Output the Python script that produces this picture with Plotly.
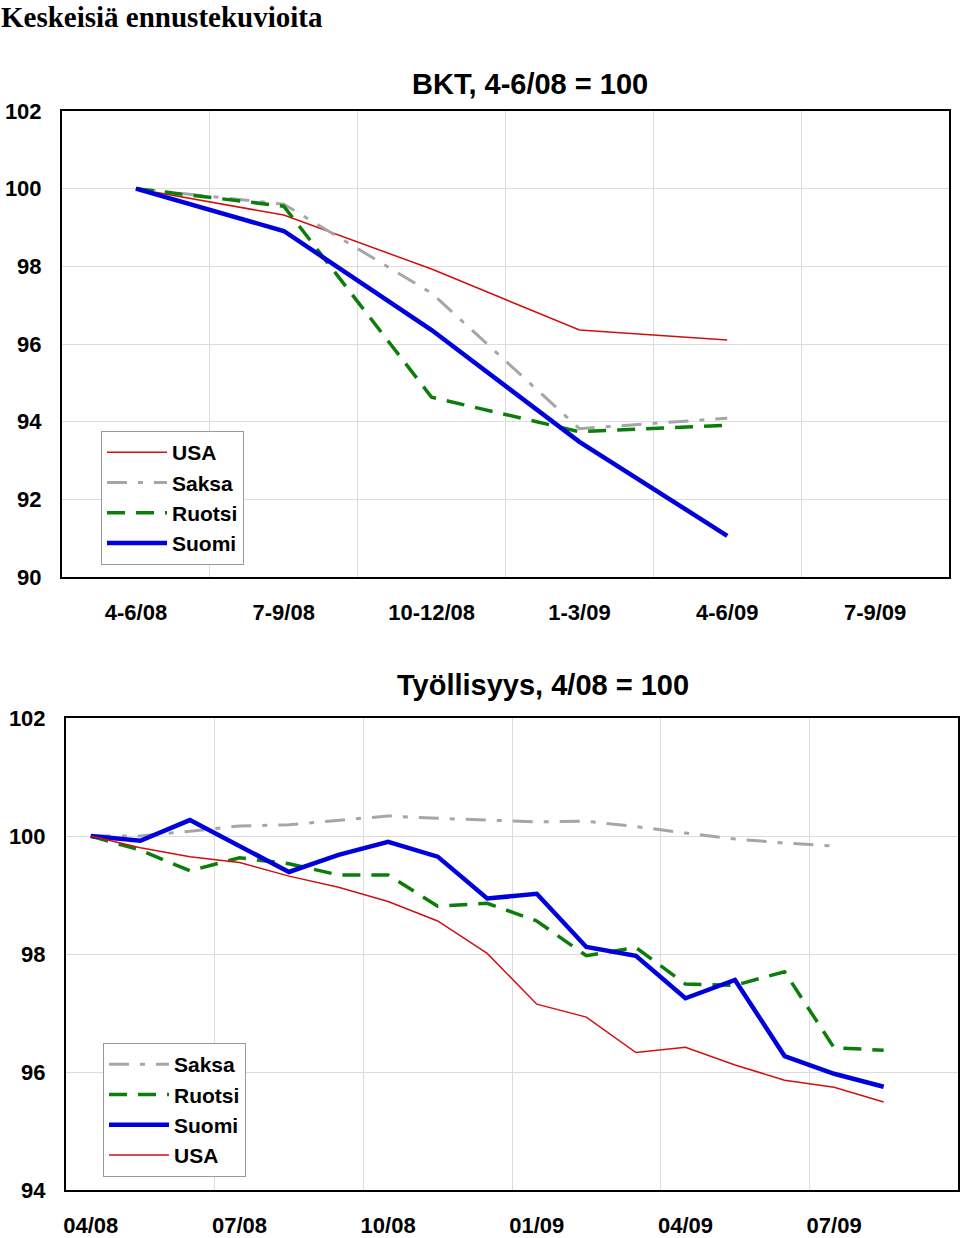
import plotly.graph_objects as go

PAGE_TITLE = "Keskeisiä ennustekuvioita"

# --- Top chart: GDP (BKT), quarterly, 4-6/08 = 100
GDP_TITLE = "BKT, 4-6/08 = 100"
GDP_QUARTERS = ["4-6/08", "7-9/08", "10-12/08", "1-3/09", "4-6/09", "7-9/09"]
GDP_USA = [100.0, 99.32, 97.93, 96.36, 96.10]
GDP_SAKSA = [100.0, 99.60, 97.31, 93.82, 94.09]
GDP_RUOTSI = [100.0, 99.55, 94.63, 93.74, 93.91]
GDP_SUOMI = [100.0, 98.91, 96.36, 93.48, 91.06]

# --- Bottom chart: employment (Työllisyys), monthly, 4/08 = 100
EMP_TITLE = "Työllisyys, 4/08 = 100"
EMP_MONTHS = ["04/08", "05/08", "06/08", "07/08", "08/08", "09/08", "10/08",
              "11/08", "12/08", "01/09", "02/09", "03/09", "04/09", "05/09",
              "06/09", "07/09", "08/09", "09/09"]
EMP_SAKSA = [100.0, 100.0, 100.08, 100.17, 100.19, 100.26, 100.34, 100.30,
             100.27, 100.24, 100.25, 100.16, 100.05, 99.95, 99.88, 99.83]
EMP_RUOTSI = [100.0, 99.76, 99.41, 99.63, 99.53, 99.34, 99.34, 98.81, 98.86,
              98.56, 97.97, 98.11, 97.49, 97.47, 97.70, 96.41, 96.37]
EMP_SUOMI = [100.0, 99.92, 100.27, 99.83, 99.39, 99.68, 99.90, 99.65, 98.94,
             99.02, 98.12, 97.97, 97.25, 97.56, 96.27, 95.97, 95.75]
EMP_USA = [100.0, 99.80, 99.65, 99.55, 99.32, 99.13, 98.89, 98.56, 98.01,
           97.15, 96.93, 96.33, 96.42, 96.12, 95.86, 95.74, 95.49]

W, H = 960, 1238
FONT = "Liberation Sans, Arial, sans-serif"
RED, GRAY, GREEN, BLUE = "#d01010", "#a6a6a6", "#0b7d0b", "#0000dd"
GRID = "#dcdcdc"

STYLE = {
    "USA": dict(color=RED, width=1.5, dash="solid"),
    "Saksa": dict(color=GRAY, width=3, dash="20px,11px,5px,11px"),
    "Ruotsi": dict(color=GREEN, width=3.5, dash="18px,11px"),
    "Suomi": dict(color=BLUE, width=4.5, dash="solid"),
}

fig = go.Figure()

def add(name, cats, vals, xa, ya, leg):
    fig.add_trace(go.Scatter(
        x=cats[:len(vals)], y=vals, name=name, mode="lines",
        line=STYLE[name], xaxis=xa, yaxis=ya, legend=leg,
    ))

add("USA", GDP_QUARTERS, GDP_USA, "x", "y", "legend")
add("Saksa", GDP_QUARTERS, GDP_SAKSA, "x", "y", "legend")
add("Ruotsi", GDP_QUARTERS, GDP_RUOTSI, "x", "y", "legend")
add("Suomi", GDP_QUARTERS, GDP_SUOMI, "x", "y", "legend")

add("Saksa", EMP_MONTHS, EMP_SAKSA, "x2", "y2", "legend2")
add("Ruotsi", EMP_MONTHS, EMP_RUOTSI, "x2", "y2", "legend2")
add("Suomi", EMP_MONTHS, EMP_SUOMI, "x2", "y2", "legend2")
add("USA", EMP_MONTHS, EMP_USA, "x2", "y2", "legend2")

tickfont = dict(family=FONT, size=22, color="black", weight="bold")
axis_common = dict(showline=True, linecolor="black", linewidth=2, mirror=True,
                   gridcolor=GRID, gridwidth=1, tickfont=tickfont, ticks="",
                   zeroline=False, fixedrange=True, automargin=False)

def py(y_px):
    return 1 - y_px / H

legend_font = dict(family=FONT, size=21, color="black", weight="bold")

fig.update_layout(
    width=W, height=H,
    margin=dict(l=0, r=0, t=0, b=0),
    paper_bgcolor="white", plot_bgcolor="white",
    font=dict(family=FONT, color="black"),
    xaxis=dict(domain=[62 / W, 949 / W], anchor="y", type="category",
               categoryorder="array", categoryarray=GDP_QUARTERS,
               range=[-0.5, len(GDP_QUARTERS) - 0.5], tickson="boundaries",
               tickangle=0, showgrid=True, ticklabelstandoff=15, **axis_common),
    yaxis=dict(domain=[py(577), py(111)], anchor="x", range=[90, 102],
               dtick=2, showgrid=True, ticklabelstandoff=14, **axis_common),
    xaxis2=dict(domain=[66 / W, 958 / W], anchor="y2", type="category",
                categoryorder="array", categoryarray=EMP_MONTHS,
                range=[-0.5, len(EMP_MONTHS) - 0.5], tickson="boundaries",
                dtick=3, tickangle=0, showgrid=True, ticklabelstandoff=15,
                **axis_common),
    yaxis2=dict(domain=[py(1190), py(718)], anchor="x2", range=[94, 102],
                dtick=2, showgrid=True, ticklabelstandoff=14, **axis_common),
    legend=dict(x=101 / W, y=py(498), xanchor="left", yanchor="middle",
                bgcolor="white", bordercolor="#9a9a9a", borderwidth=1,
                font=legend_font, tracegroupgap=0, itemwidth=60),
    legend2=dict(x=103 / W, y=py(1110), xanchor="left", yanchor="middle",
                 bgcolor="white", bordercolor="#9a9a9a", borderwidth=1,
                 font=legend_font, tracegroupgap=0, itemwidth=60),
    annotations=[
        dict(text=PAGE_TITLE, x=0, y=1, xref="paper", yref="paper",
             xanchor="left", yanchor="top", showarrow=False, borderpad=0,
             font=dict(family="Liberation Serif, Times New Roman, serif",
                       size=29, color="black", weight="bold")),
        dict(text=GDP_TITLE, x=530 / W, y=py(84), xref="paper", yref="paper",
             xanchor="center", yanchor="middle", showarrow=False,
             font=dict(family=FONT, size=29, color="black", weight="bold")),
        dict(text=EMP_TITLE, x=543 / W, y=py(685), xref="paper", yref="paper",
             xanchor="center", yanchor="middle", showarrow=False,
             font=dict(family=FONT, size=29, color="black", weight="bold")),
    ],
)

fig.write_html("out.html")
